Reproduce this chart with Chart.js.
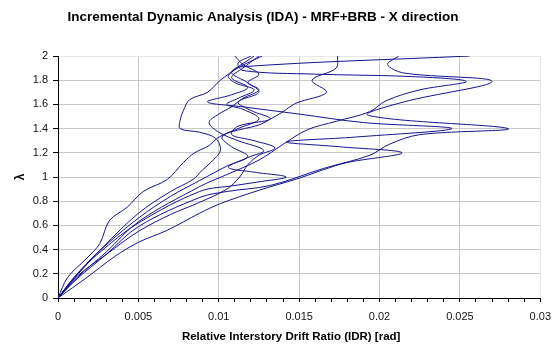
<!DOCTYPE html>
<html>
<head>
<meta charset="utf-8">
<script src="https://cdn.jsdelivr.net/npm/chart.js@4/dist/chart.umd.min.js"></script>
<style>
  html, body { margin: 0; padding: 0; background: #fff; }
</style>
</head>
<body>
<canvas id="idaChart" width="559" height="349"></canvas>
<script>
// IDA curves, one pair of arrays per record: drift ratio (x) and intensity lambda (y)
var idrA = [0, 0.0006, 0.0018, 0.0026, 0.0032, 0.0043, 0.0053, 0.0068, 0.0078, 0.0085, 0.0094, 0.0099, 0.0107, 0.0125, 0.0131, 0.0140, 0.0148, 0.0167, 0.0158, 0.0173, 0.0174];
var lamA = [0, 0.17, 0.33, 0.45, 0.64, 0.75, 0.88, 0.98, 1.12, 1.20, 1.26, 1.32, 1.37, 1.43, 1.47, 1.54, 1.61, 1.70, 1.80, 1.90, 2.0];

var idrB = [0, 0.0012, 0.0028, 0.005, 0.0070, 0.0084, 0.0090, 0.0095, 0.0101, 0.0098, 0.0088, 0.0076, 0.0076, 0.0078, 0.0082, 0.0093, 0.0101, 0.0113, 0.0127];
var lamB = [0, 0.19, 0.42, 0.70, 0.88, 0.98, 1.06, 1.12, 1.22, 1.32, 1.37, 1.40, 1.47, 1.55, 1.64, 1.70, 1.80, 1.91, 2.0];

var idrC = [0, 0.0012, 0.003, 0.005, 0.0088, 0.0105, 0.0125, 0.0140, 0.0155, 0.0173, 0.0194, 0.0204, 0.0225, 0.0254, 0.0220, 0.0160, 0.0115, 0.0112, 0.0120];
var lamC = [0, 0.17, 0.38, 0.63, 0.92, 1.02, 1.14, 1.27, 1.39, 1.46, 1.54, 1.63, 1.72, 1.79, 1.83, 1.85, 1.88, 1.94, 2.0];

var idrD = [0, 0.0012, 0.003, 0.005, 0.0088, 0.0105, 0.0132, 0.0165, 0.0194, 0.0206, 0.0225, 0.0280, 0.0193, 0.0215, 0.0270, 0.0215, 0.0205, 0.0212];
var lamD = [0, 0.16, 0.36, 0.59, 0.83, 0.88, 0.93, 1.07, 1.18, 1.27, 1.35, 1.40, 1.51, 1.62, 1.79, 1.86, 1.93, 2.0];

var idrE = [0, 0.0018, 0.0035, 0.005, 0.0068, 0.0088, 0.0101, 0.0125, 0.0150, 0.0165, 0.0180, 0.0214, 0.0175, 0.0142, 0.0185, 0.0245, 0.0190, 0.0150, 0.0115, 0.0093, 0.0108, 0.0118, 0.0108, 0.0115, 0.0125];
var lamE = [0, 0.17, 0.34, 0.46, 0.56, 0.70, 0.78, 0.89, 0.99, 1.06, 1.12, 1.20, 1.25, 1.29, 1.33, 1.40, 1.45, 1.52, 1.58, 1.62, 1.68, 1.74, 1.82, 1.90, 2.0];

var idrF = [0, 0.0012, 0.0028, 0.005, 0.0088, 0.0110, 0.0125, 0.0142, 0.0122, 0.0106, 0.0118, 0.0128, 0.0112, 0.0100, 0.0094, 0.0100, 0.0108, 0.0115, 0.0125, 0.0118, 0.0125, 0.0115, 0.0110];
var lamF = [0, 0.20, 0.40, 0.62, 0.88, 0.93, 0.96, 1.00, 1.04, 1.08, 1.16, 1.22, 1.30, 1.37, 1.45, 1.52, 1.58, 1.65, 1.72, 1.78, 1.85, 1.93, 2.0];

var idrG = [0, 0.0010, 0.0025, 0.005, 0.0070, 0.0088, 0.0105, 0.0118, 0.0108, 0.0102, 0.0112, 0.0125, 0.0115, 0.0105, 0.0112, 0.0122, 0.0110, 0.0106, 0.0122];
var lamG = [0, 0.17, 0.38, 0.66, 0.84, 0.97, 1.09, 1.17, 1.25, 1.33, 1.40, 1.48, 1.56, 1.60, 1.65, 1.72, 1.78, 1.84, 2.0];

var idrH = [0, 0.0012, 0.003, 0.005, 0.0070, 0.0088, 0.0105, 0.0113, 0.0118, 0.0125, 0.0135, 0.0122, 0.0108, 0.0112, 0.0132, 0.0120, 0.0112, 0.0125, 0.0118, 0.0108, 0.0113, 0.0256];
var lamH = [0, 0.18, 0.36, 0.55, 0.69, 0.79, 0.90, 1.00, 1.10, 1.18, 1.24, 1.30, 1.35, 1.42, 1.48, 1.55, 1.62, 1.70, 1.78, 1.86, 1.91, 2.0];

var records = [[idrA, lamA], [idrB, lamB], [idrC, lamC], [idrD, lamD], [idrE, lamE], [idrF, lamF], [idrG, lamG], [idrH, lamH]];

var xTickStep = 0.001;   // minor ticks; labels every 0.005
var yTickStep = 0.2;

var lineColor = '#14148c';
var fontFamily = "'Liberation Sans', Arial, sans-serif";

function toPoints(xs, ys) {
    var pts = [];
    for (var i = 0; i < xs.length; i++) {
        pts.push({ x: xs[i], y: ys[i] });
    }
    return pts;
}

var datasets = [];
for (var r = 0; r < records.length; r++) {
    datasets.push({
        label: 'Record ' + (r + 1),
        data: toPoints(records[r][0], records[r][1]),
        showLine: true,
        borderColor: lineColor,
        backgroundColor: lineColor,
        borderWidth: 1,
        pointRadius: 0,
        tension: 0.35
    });
}

var ctx = document.getElementById('idaChart').getContext('2d');
var chart = new Chart(ctx, {
    type: 'scatter',
    data: { datasets: datasets },
    options: {
        responsive: false,
        animation: false,
        layout: { padding: { left: 0, right: 18, top: 0, bottom: 0 } },
        plugins: {
            legend: { display: false },
            tooltip: { enabled: false },
            title: {
                display: true,
                text: 'Incremental Dynamic Analysis (IDA) - MRF+BRB - X direction    ',
                color: '#000',
                font: { family: fontFamily, size: 13.5, weight: 'bold' },
                padding: { top: 9, bottom: 30.8 }
            }
        },
        scales: {
            x: {
                type: 'linear',
                min: 0,
                max: 0.03,
                afterFit: function(scale) { scale.height = 51; },
                border: { color: '#000', width: 1 },
                grid: {
                    color: function(c) {
                        var k = Math.round(c.tick.value * 1000);
                        if (k % 5 !== 0) return 'rgba(0,0,0,0)';
                        if (k === 30) return '#e6e6e6';
                        return '#c8c8c8';
                    },
                    tickColor: '#000',
                    tickLength: 4
                },
                ticks: {
                    stepSize: xTickStep,
                    autoSkip: false,
                    maxRotation: 0,
                    padding: 8,
                    color: '#111',
                    font: { family: fontFamily, size: 11 },
                    callback: function(value) {
                        var k = Math.round(value * 1000);
                        return k % 5 === 0 ? String(k / 1000) : '';
                    }
                },
                title: {
                    display: true,
                    text: 'Relative Interstory Drift Ratio (IDR) [rad]     ',
                    color: '#000',
                    font: { family: fontFamily, size: 11.5, weight: 'bold' },
                    padding: { top: 0, bottom: 5 }
                }
            },
            y: {
                type: 'linear',
                min: 0,
                max: 2,
                afterFit: function(scale) { scale.width = 58; },
                border: { color: '#000', width: 1 },
                grid: {
                    color: function(c) {
                        if (Math.abs(c.tick.value - 2) < 1e-6) return '#e6e6e6';
                        return '#c8c8c8';
                    },
                    tickColor: '#000',
                    tickLength: 5
                },
                ticks: {
                    stepSize: yTickStep,
                    padding: 5,
                    color: '#111',
                    font: { family: fontFamily, size: 11 },
                    callback: function(value) {
                        return String(Math.round(value * 10) / 10);
                    }
                },
                title: {
                    display: true,
                    text: 'λ',
                    color: '#000',
                    font: { family: fontFamily, size: 12, weight: 'bold' },
                    padding: { top: 13, bottom: 0 }
                }
            }
        }
    }
});
</script>
</body>
</html>
